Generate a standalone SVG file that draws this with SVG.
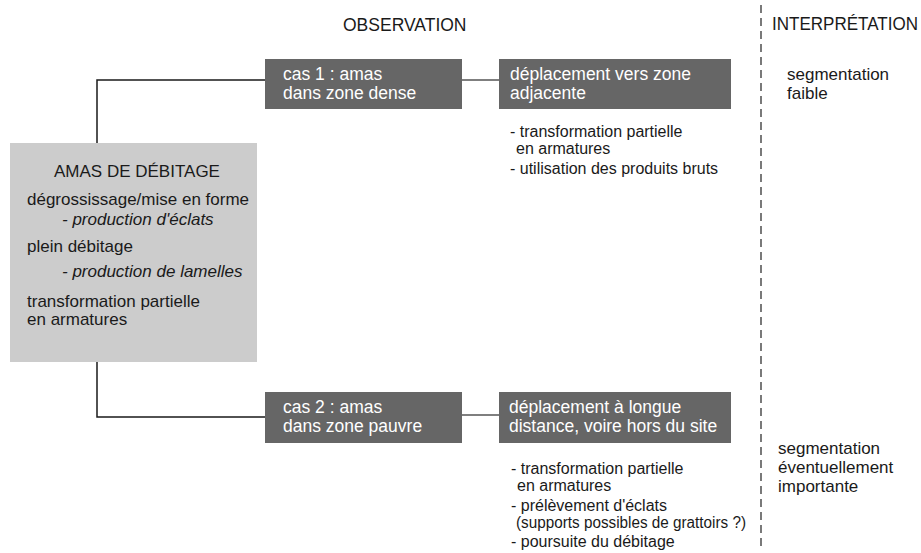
<svg xmlns="http://www.w3.org/2000/svg" width="921" height="553" viewBox="0 0 921 553">
<style>
text{font-family:"Liberation Sans",Arial,sans-serif;font-size:17px;fill:#1a1a1a}
.h{font-size:17.5px}
.b{font-size:17.5px;fill:#ffffff}
.l{font-size:16px}
.i{font-style:italic}
.dark{fill:#666666}
.light{fill:#cccccc}
.ln{fill:none;stroke:#1a1a1a;stroke-width:1.5}
.lg{fill:none;stroke:#555555;stroke-width:1.5}
.dash{fill:none;stroke:#333333;stroke-width:1.3;stroke-dasharray:8 5}
</style>
<rect width="921" height="553" fill="#ffffff"/>
<g id="headings">
<text class="h" x="343" y="31">OBSERVATION</text>
<text class="h" x="772" y="30" textLength="146" lengthAdjust="spacingAndGlyphs">INTERPRÉTATION</text>
</g>
<g id="connectors">
<path class="ln" d="M97,143 V80 H265"/>
<path class="ln" d="M97,362 V417 H265"/>
<path class="lg" d="M462,80 H499"/>
<path class="lg" d="M462,415 H499"/>
<path class="dash" d="M761,5 V550"/>
</g>
<g id="amas">
<rect class="light" x="10" y="143" width="247" height="219"/>
<text x="54" y="177">AMAS DE DÉBITAGE</text>
<text x="27" y="205">dégrossissage/mise en forme</text>
<text class="i" x="62" y="225">- production d'éclats</text>
<text x="27" y="252">plein débitage</text>
<text class="i" x="62" y="277">- production de lamelles</text>
<text x="27" y="307">transformation partielle</text>
<text x="27" y="325">en armatures</text>
</g>
<g id="cas1">
<rect class="dark" x="265" y="59" width="197" height="50"/>
<text class="b" x="283" y="80">cas 1 : amas</text>
<text class="b" x="283" y="99">dans zone dense</text>
</g>
<g id="dep1">
<rect class="dark" x="499" y="59" width="232" height="50"/>
<text class="b" x="510" y="80">déplacement vers zone</text>
<text class="b" x="510" y="99">adjacente</text>
</g>
<g id="list1">
<text class="l" x="510" y="137">- transformation partielle</text>
<text class="l" x="516" y="154">en armatures</text>
<text class="l" x="510" y="174">- utilisation des produits bruts</text>
</g>
<g id="cas2">
<rect class="dark" x="265" y="392" width="197" height="51"/>
<text class="b" x="283" y="413">cas 2 : amas</text>
<text class="b" x="283" y="432">dans zone pauvre</text>
</g>
<g id="dep2">
<rect class="dark" x="499" y="392" width="232" height="51"/>
<text class="b" x="509" y="413">déplacement à longue</text>
<text class="b" x="509" y="432">distance, voire hors du site</text>
</g>
<g id="list2">
<text class="l" x="511" y="474">- transformation partielle</text>
<text class="l" x="517" y="491">en armatures</text>
<text class="l" x="511" y="511">- prélèvement d'éclats</text>
<text class="l" x="516" y="528" textLength="230" lengthAdjust="spacingAndGlyphs">(supports possibles de grattoirs ?)</text>
<text class="l" x="511" y="547">- poursuite du débitage</text>
</g>
<g id="interp1">
<text x="787" y="80">segmentation</text>
<text x="787" y="99">faible</text>
</g>
<g id="interp2">
<text x="778" y="454">segmentation</text>
<text x="778" y="473">éventuellement</text>
<text x="778" y="492">importante</text>
</g>
</svg>
